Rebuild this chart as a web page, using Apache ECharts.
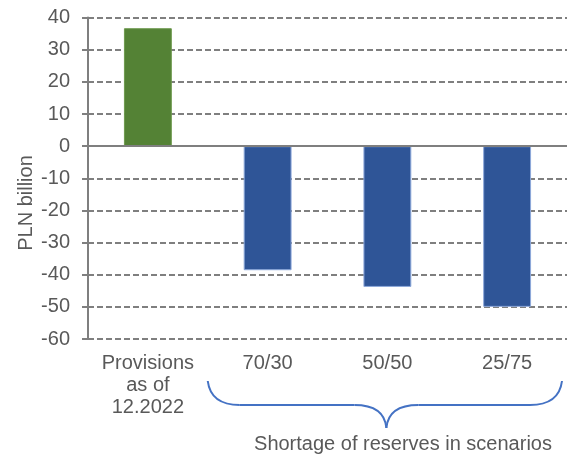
<!DOCTYPE html>
<html>
<head>
<meta charset="utf-8">
<script src="https://cdn.jsdelivr.net/npm/echarts@6/dist/echarts.min.js"></script>
<style>
  html, body { margin: 0; padding: 0; background: #fff; }
  #chart { width: 568px; height: 459px; }
</style>
</head>
<body>
<div id="chart"></div>
<script>
// Reserve provisions vs. shortage scenarios (PLN billion)
const categories = ['Provisions\nas of\n12.2022', '70/30', '50/50', '25/75'];
const values = [36.7, -38.6, -43.8, -50.0];
const barColors = ['#548235', '#2F5597', '#2F5597', '#2F5597'];
const yTicks = { min: -60, max: 40, interval: 10 };
const axisTitle = 'PLN billion';
const groupTitle = 'Shortage of reserves in scenarios';

const FONT = '"Liberation Sans", Arial, sans-serif';
const TEXT = '#595959';
const LINE = '#7F7F7F';

const chart = echarts.init(document.getElementById('chart'), null, { renderer: 'canvas' });

const option = {
  animation: false,
  backgroundColor: '#ffffff',
  grid: { left: 88, right: 1, top: 17.6, bottom: 120, containLabel: false },
  xAxis: {
    type: 'category',
    data: categories,
    axisLine: { show: false, onZero: false },
    axisTick: { show: false },
    axisLabel: {
      color: TEXT, fontFamily: FONT, fontSize: 20, lineHeight: 22,
      margin: 13, interval: 0
    },
    splitLine: { show: false }
  },
  yAxis: {
    type: 'value',
    min: yTicks.min, max: yTicks.max, interval: yTicks.interval,
    axisLine: { show: true, lineStyle: { color: LINE, width: 2 } },
    axisTick: { show: true, inside: false, length: 6, lineStyle: { color: LINE, width: 2 } },
    axisLabel: { color: TEXT, fontFamily: FONT, fontSize: 20, margin: 18 },
    splitLine: { show: true, lineStyle: { color: LINE, width: 2, type: [6, 3] } }
  },
  series: [{
    type: 'bar',
    barWidth: '40%',
    data: values.map((v, i) => ({
      value: v,
      itemStyle: {
        color: barColors[i],
        borderColor: i === 0 ? '#6E9A4E' : '#8EA9DB',
        borderWidth: 1
      }
    })),
    markLine: {
      silent: true,
      symbol: 'none',
      label: { show: false },
      lineStyle: { color: LINE, width: 2, type: 'solid' },
      data: [{ yAxis: 0 }]
    }
  }]
};

chart.setOption(option);

// Brace grouping the three scenario categories, placed from the category axis
const c1 = chart.convertToPixel({ xAxisIndex: 0 }, 1);
const c2 = chart.convertToPixel({ xAxisIndex: 0 }, 2);
const c3 = chart.convertToPixel({ xAxisIndex: 0 }, 3);
const step = c2 - c1;
const bx0 = c1 - step / 2;
const bx1 = c3 + step / 2 - 5;
const bxm = c2 - 1;
const yTop = 381, yMid = 405, yTip = 428;
const braceStyle = { stroke: '#4472C4', lineWidth: 2, fill: null };

function curve(x1, y1, cx, cy, x2, y2) {
  return {
    type: 'bezierCurve', silent: true,
    shape: { x1: x1, y1: y1, cpx1: cx, cpy1: cy, x2: x2, y2: y2 },
    style: braceStyle
  };
}
function seg(x1, y1, x2, y2) {
  return {
    type: 'line', silent: true,
    shape: { x1: x1, y1: y1, x2: x2, y2: y2 },
    style: braceStyle
  };
}

chart.setOption({
  graphic: [
    curve(bx0, yTop, bx0 + 3, yMid, bx0 + 32, yMid),
    seg(bx0 + 32, yMid, bxm - 32, yMid),
    curve(bxm - 32, yMid, bxm - 2, yMid, bxm, yTip),
    curve(bxm, yTip, bxm + 2, yMid, bxm + 32, yMid),
    seg(bxm + 32, yMid, bx1 - 32, yMid),
    curve(bx1 - 32, yMid, bx1 - 3, yMid, bx1, yTop),
    {
      type: 'text',
      x: 403, y: 444,
      style: {
        text: groupTitle, fill: TEXT, font: '20px ' + FONT,
        align: 'center', verticalAlign: 'middle'
      },
      silent: true
    },
    {
      type: 'text',
      x: 26, y: 203,
      rotation: Math.PI / 2,
      style: {
        text: axisTitle, fill: TEXT, font: '20px ' + FONT,
        align: 'center', verticalAlign: 'middle'
      },
      silent: true
    }
  ]
});
</script>
</body>
</html>
